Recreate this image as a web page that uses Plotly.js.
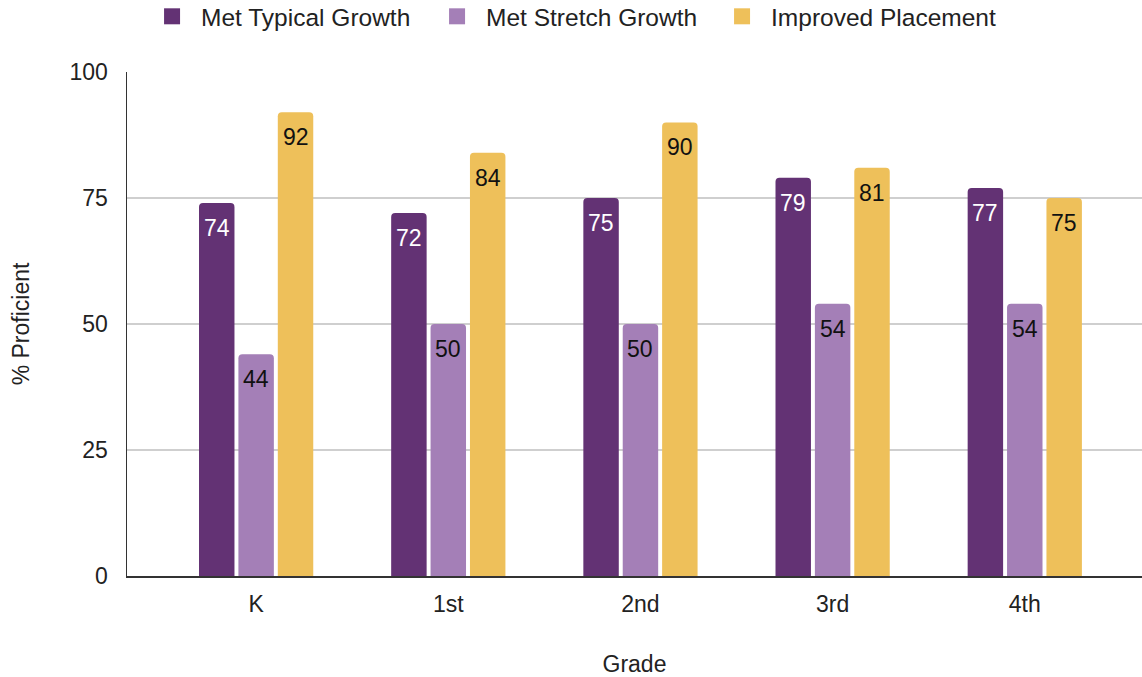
<!DOCTYPE html>
<html><head><meta charset="utf-8">
<script src="https://cdn.plot.ly/plotly-3.0.1.min.js"></script>
<style>html,body{margin:0;padding:0;background:#fff}#chart{width:1142px;height:677px}</style>
</head><body><div id="chart"></div>
<script>
const grades = ["K", "1st", "2nd", "3rd", "4th"];
const typical = [74, 72, 75, 79, 77];
const stretch = [44, 50, 50, 54, 54];
const placement = [92, 84, 90, 81, 75];
const yTicks = [0, 25, 50, 75, 100];

const FONT = "Liberation Sans, Arial, sans-serif";
const series = [
  {name: "Met Typical Growth", vals: typical, color: "#633274", txt: "#ffffff"},
  {name: "Met Stretch Growth", vals: stretch, color: "#a47fb7", txt: "#111111"},
  {name: "Improved Placement", vals: placement, color: "#eec05a", txt: "#111111"}
];
const data = series.map(s => ({
  type: "bar", name: s.name, x: grades, y: s.vals, showlegend: false, legendgroup: s.name,
  marker: {color: s.color, cornerradius: 4},
  hoverinfo: "none"
}));
// legend entries with larger square swatches
series.forEach(s => data.push({
  type: "scatter", mode: "markers", name: s.name, legendgroup: s.name, x: [null], y: [null],
  marker: {symbol: "square", size: 16, color: s.color}, hoverinfo: "none"
}));
// value labels inside bar tops (offset per bar slot within a group)
const slotPx = 39.4;
const annotations = [];
series.forEach((s, i) => {
  s.vals.forEach((v, j) => {
    annotations.push({
      x: grades[j], y: v, xref: "x", yref: "y", text: String(v), showarrow: false,
      xshift: (i - 1) * slotPx, yshift: -25, yanchor: "middle", xanchor: "center",
      font: {family: FONT, size: 23, color: s.txt}
    });
  });
});
const layout = {
  width: 1142, height: 677,
  margin: {l: 127, r: 0, t: 72, b: 101, pad: 0, autoexpand: false},
  paper_bgcolor: "#ffffff", plot_bgcolor: "#ffffff",
  font: {family: FONT, size: 23, color: "#222"},
  barmode: "group", bargap: 0.385, bargroupgap: 0.1,
  showlegend: true,
  legend: {orientation: "h", x: 0.437, xanchor: "center", y: 1.155, yref: "paper", yanchor: "top",
           font: {family: FONT, size: 24.5, color: "#222"}, traceorder: "normal", itemwidth: 48,
           entrywidth: 222, entrywidthmode: "pixels"},
  annotations: annotations,
  xaxis: {type: "category", range: [-0.672, 4.61], showgrid: false, showline: true, linecolor: "#333", linewidth: 1.5,
          ticks: "", ticklabelstandoff: 7, tickfont: {family: FONT, size: 23, color: "#222"},
          title: {text: "Grade", font: {family: FONT, size: 23, color: "#222"}, standoff: 45}},
  yaxis: {range: [0, 100], tickvals: yTicks, ticktext: yTicks.map(String), showgrid: true, gridcolor: "#cfcfcf", gridwidth: 1.5,
          showline: true, linecolor: "#333", linewidth: 1.5, zeroline: false, ticks: "", ticklabelstandoff: 13,
          tickfont: {family: FONT, size: 23, color: "#222"},
          title: {text: "% Proficient", font: {family: FONT, size: 23, color: "#222"}, standoff: 33}}
};
Plotly.newPlot("chart", data, layout, {displayModeBar: false, staticPlot: true});
</script></body></html>
